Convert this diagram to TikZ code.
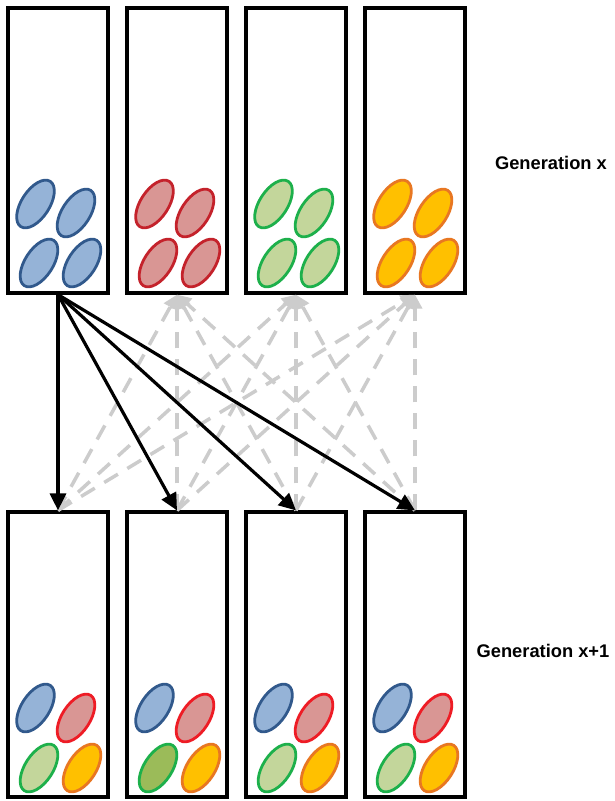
\documentclass[tikz,border=0pt]{standalone}
\usepackage{fontspec}
\setmainfont{Liberation Sans}
\usetikzlibrary{arrows.meta,shapes.geometric}
\definecolor{blueF}{HTML}{95B3D7}
\definecolor{blueD}{HTML}{31598C}
\definecolor{redF}{HTML}{D99694}
\definecolor{redDt}{HTML}{C4222B}
\definecolor{redDb}{HTML}{EE1C25}
\definecolor{greenF}{HTML}{C3D69B}
\definecolor{greenFd}{HTML}{9BBB59}
\definecolor{greenD}{HTML}{1DB04B}
\definecolor{orangeF}{HTML}{FFC000}
\definecolor{orangeD}{HTML}{E87722}
\definecolor{lgray}{HTML}{CCCCCC}
\tikzset{
  popbox/.style={draw=black, line width=3.2pt, fill=white, rectangle, minimum width=100pt, minimum height=285pt, inner sep=0pt},
  blob/.style n args={2}{draw=#2, fill=#1, ellipse, line width=2.8pt, minimum width=54pt, minimum height=28pt, inner sep=0pt, rotate=57},
  blackarrow/.style={draw=black, line width=3.2pt, -{Triangle[length=17pt,width=16pt]}},
  grayarrow/.style={draw=lgray, line width=3.5pt, dash pattern=on 16pt off 11pt, -{Triangle[length=14pt,width=14pt]}},
  genlabel/.style={font=\fontsize{18.3}{22}\selectfont\bfseries, inner sep=0pt}
}
\newcommand{\popblobs}[9]{%
  % #1 prefix, #2 left x, #3 bottom y, #4/#5 UL, #6/#7 UR, #8 LL fill/draw, #9 LR
  \node[blob={#4}{#5}] (#1ul) at (#2+27.5, #3-89) {};
  \node[blob={#6}{#7}] (#1ur) at (#2+68, #3-80) {};
  #8
  #9
}
\begin{document}
\begin{tikzpicture}[x=1pt,y=-1pt]
\useasboundingbox (0,0) rectangle (614,801);
\fill[white] (0,0) rectangle (614,801);
% boxes
\foreach \i/\xx in {1/58,2/177,3/296,4/415}{
  \node[popbox] (t\i) at (\xx,150.5) {};
  \node[popbox] (b\i) at (\xx,654.5) {};
}
% top generation blobs
\foreach \i/\L/\f/\d in {1/8/blueF/blueD,2/127/redF/redDt,3/246/greenF/greenD,4/365/orangeF/orangeD}{
  \node[blob={\f}{\d}] (t\i ul) at (\L+27.5, 204) {};
  \node[blob={\f}{\d}] (t\i ur) at (\L+68, 213) {};
  \node[blob={\f}{\d}] (t\i ll) at (\L+31, 263) {};
  \node[blob={\f}{\d}] (t\i lr) at (\L+74, 263) {};
}
% bottom generation blobs
\foreach \i/\L/\g in {1/8/greenF,2/127/greenFd,3/246/greenF,4/365/greenF}{
  \node[blob={blueF}{blueD}] (b\i ul) at (\L+27.5, 708) {};
  \node[blob={redF}{redDb}] (b\i ur) at (\L+68, 718) {};
  \node[blob={\g}{greenD}] (b\i ll) at (\L+31, 768) {};
  \node[blob={orangeF}{orangeD}] (b\i lr) at (\L+74, 768) {};
}
% gray dashed arrows
\foreach \i in {2,3,4}{
  \foreach \j in {1,2,3,4}{
    \draw[grayarrow] (b\j.north) -- (t\i.south);
  }
}
% black arrows
\foreach \j in {1,2,3,4}{
  \draw[blackarrow] (t1.south) -- (b\j.north);
}
% labels
\node[genlabel] (gx) at (551,163) {Generation x};
\node[genlabel] (gx1) at (543,651) {Generation x+1};
\end{tikzpicture}
\end{document}
